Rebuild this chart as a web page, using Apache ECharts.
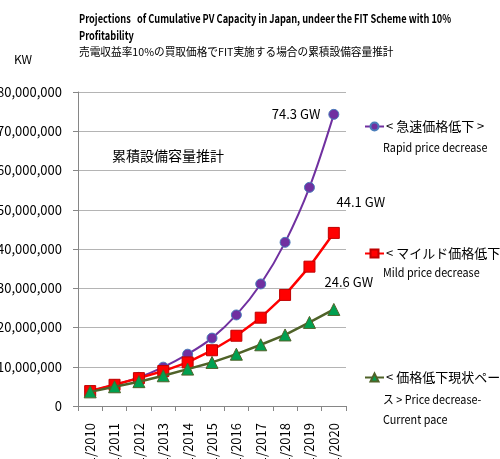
<!DOCTYPE html>
<html>
<head>
<meta charset="utf-8">
<script src="https://cdn.jsdelivr.net/npm/echarts@6/dist/echarts.min.js"></script>
<style>
html,body{margin:0;padding:0;background:#fff;}
#chart{width:500px;height:459px;}
</style>
</head>
<body>
<div id="chart"></div>
<script>
// Fiscal year-end dates on the category axis
const years = ['3/31/2010','3/31/2011','3/31/2012','3/31/2013','3/31/2014','3/31/2015','3/31/2016','3/31/2017','3/31/2018','3/31/2019','3/31/2020'];

// Cumulative installed capacity, kW
const rapidDecrease = [3.8e6, 5.4e6, 7.3e6, 9.9e6, 13.2e6, 17.3e6, 23.2e6, 31.1e6, 41.7e6, 55.7e6, 74.3e6];
const mildDecrease = [3.8e6, 5.4e6, 7.1e6, 8.9e6, 11.1e6, 14.2e6, 17.9e6, 22.5e6, 28.3e6, 35.5e6, 44.1e6];
const currentPace = [3.6e6, 4.9e6, 6.2e6, 7.7e6, 9.4e6, 11.1e6, 13.2e6, 15.6e6, 18.1e6, 21.3e6, 24.6e6];

// Series names (first legend line) and their English captions
const seriesNames = ['< 急速価格低下 >', '< マイルド価格低下 >', '< 価格低下現状ペー'];
const seriesCaptions = [
  ['Rapid price decrease'],
  ['Mild price decrease'],
  ['ス > Price decrease-', 'Current pace']
];

const FONT = '"Noto Sans CJK JP", sans-serif';

const gwLabel = p => (p.value / 1e6).toFixed(1) + ' GW';

function lastPointLabel(arr, label) {
  return arr.map((v, i) => i === arr.length - 1 ? { value: v, label: label } : v);
}

// Plain text drawn with an optional horizontal squeeze
function txt(str, x, y, size, opts) {
  opts = opts || {};
  return {
    type: 'text',
    x: x, y: y,
    scaleX: opts.scaleX || 1,
    silent: true,
    style: {
      text: str,
      font: (opts.bold ? 'bold ' : '') + size + 'px ' + FONT,
      fill: '#000',
      textVerticalAlign: 'middle',
      textAlign: 'left'
    }
  };
}

const legendTops = [120, 247, 371];
const captionRows = [[147], [272], [399, 419]];

const graphics = [
  txt('Projections   of Cumulative PV Capacity in Japan, undeer the FIT Scheme with 10%', 79, 18, 12, { bold: true, scaleX: 0.77 }),
  txt('Profitability', 79, 35, 12, { bold: true, scaleX: 0.77 }),
  txt('売電収益率10%の買取価格でFIT実施する場合の累積設備容量推計', 79, 52, 11, { scaleX: 0.97 }),
  txt('KW', 14, 59, 12),
  txt('累積設備容量推計', 112, 156, 14)
];
seriesCaptions.forEach((rows, i) => {
  rows.forEach((r, j) => graphics.push(txt(r, 383, captionRows[i][j], 12, { scaleX: 0.9 })));
});

const chart = echarts.init(document.getElementById('chart'), null, { renderer: 'canvas' });

const legendText = { color: '#000', fontSize: 13, fontFamily: FONT, padding: [0, 0, 0, -3] };

chart.setOption({
  animation: false,
  backgroundColor: '#fff',
  graphic: graphics,
  grid: { left: 78, right: 154, top: 92, bottom: 53, containLabel: false, outerBoundsMode: 'none' },
  legend: seriesNames.map((n, i) => ({
    data: [n], left: 364, top: legendTops[i], orient: 'vertical', padding: 0,
    itemWidth: 19, itemHeight: 10, itemGap: 0, textStyle: legendText, selectedMode: false
  })),
  xAxis: {
    type: 'category',
    data: years,
    boundaryGap: true,
    axisLine: { lineStyle: { color: '#868686', width: 1 } },
    axisTick: { show: true, length: 5, lineStyle: { color: '#868686' } },
    axisLabel: { rotate: 90, margin: 17, fontSize: 13, fontFamily: FONT, color: '#000' },
    splitLine: { show: false }
  },
  yAxis: {
    type: 'value',
    min: 0, max: 80000000, interval: 10000000,
    axisLine: { show: true, lineStyle: { color: '#868686', width: 1 } },
    axisTick: { show: true, length: 5, lineStyle: { color: '#868686' } },
    axisLabel: {
      margin: 16, fontSize: 13, fontFamily: FONT, color: '#000',
      formatter: v => v.toLocaleString('en-US')
    },
    splitLine: { lineStyle: { color: '#b4b4b4', width: 1 } }
  },
  series: [
    {
      name: seriesNames[0],
      type: 'line',
      smooth: 0.35,
      data: lastPointLabel(rapidDecrease, {
        show: true, position: 'left', distance: 8, formatter: gwLabel,
        fontSize: 13, fontFamily: FONT, color: '#000'
      }),
      lineStyle: { color: '#7030a0', width: 2 },
      itemStyle: { color: '#7030a0', borderColor: '#4a7ebb', borderWidth: 1 },
      symbol: 'circle', symbolSize: 10,
      z: 3
    },
    {
      name: seriesNames[1],
      type: 'line',
      data: lastPointLabel(mildDecrease, {
        show: true, position: 'top', offset: [27, -13], formatter: gwLabel,
        fontSize: 13, fontFamily: FONT, color: '#000'
      }),
      lineStyle: { color: '#ff0000', width: 2.5 },
      itemStyle: { color: '#ff0000', borderColor: '#c00000', borderWidth: 1 },
      symbol: 'rect', symbolSize: 11,
      z: 4
    },
    {
      name: seriesNames[2],
      type: 'line',
      data: lastPointLabel(currentPace, {
        show: true, position: 'top', offset: [15, -9], formatter: gwLabel,
        fontSize: 13, fontFamily: FONT, color: '#000'
      }),
      lineStyle: { color: '#4f6228', width: 2.5 },
      itemStyle: { color: '#00a050', borderColor: '#4f6228', borderWidth: 1 },
      symbol: 'triangle', symbolSize: 12,
      z: 5
    }
  ]
});
</script>
</body>
</html>
